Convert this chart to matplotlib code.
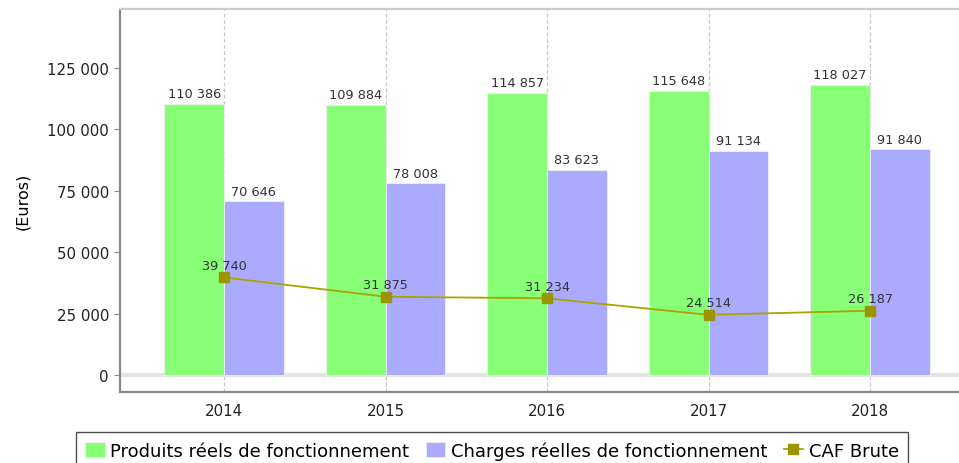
import matplotlib.pyplot as plt
from matplotlib.ticker import FuncFormatter

annees = ['2014', '2015', '2016', '2017', '2018']
produits = [110386, 109884, 114857, 115648, 118027]
charges = [70646, 78008, 83623, 91134, 91840]
caf = [39740, 31875, 31234, 24514, 26187]

def fmt(v):
    return f"{v:,.0f}".replace(",", " ")

fig = plt.figure(figsize=(9.59, 4.64), dpi=100)
ax = fig.add_axes([120 / 959, 71 / 464, 1 - 120 / 959, 383 / 464])

x = list(range(len(annees)))
w = 0.37
b1 = ax.bar([i - w / 2 for i in x], produits, w, color='#88ff77', edgecolor='#f0f0f0',
            linewidth=0.6, label='Produits réels de fonctionnement', zorder=2)
b2 = ax.bar([i + w / 2 for i in x], charges, w, color='#aaaaff', edgecolor='#f0f0f0',
            linewidth=0.6, label='Charges réelles de fonctionnement', zorder=2)
ln, = ax.plot(x, caf, color='#aaa400', lw=1.3, marker='s', ms=7, mfc='#999400', mec='#999400',
              label='CAF Brute', zorder=4)

for bars, vals in ((b1, produits), (b2, charges)):
    for r, v in zip(bars, vals):
        ax.text(r.get_x() + r.get_width() / 2, v + 1500, fmt(v), ha='center', va='bottom',
                fontsize=9.3, color='#333333', zorder=5)
for i, v in zip(x, caf):
    ax.text(i, v + 2200, fmt(v), ha='center', va='bottom', fontsize=9.3, color='#333333', zorder=5)

ax.set_xlim(-0.644, 4.551)
ax.set_ylim(-6900, 149000)
ax.set_yticks([0, 25000, 50000, 75000, 100000, 125000])
ax.yaxis.set_major_formatter(FuncFormatter(lambda v, p: fmt(v)))
ax.set_xticks(x)
ax.set_xticklabels(annees)
ax.tick_params(axis='y', length=4, color='#888888', labelsize=10.8, pad=4, labelcolor='#222222')
ax.tick_params(axis='x', length=0, labelsize=10.8, pad=8, labelcolor='#222222')
ax.set_ylabel('(Euros)', fontsize=11.5, labelpad=12)

for xi in x:
    ax.axvline(xi, color='#c8c8c8', lw=0.9, ls=(0, (3, 2)), zorder=1)
ax.axhline(0, color='#e4e4e4', lw=3, zorder=1)

ax.spines['left'].set_color('#888888')
ax.spines['left'].set_linewidth(1.6)
ax.spines['bottom'].set_color('#888888')
ax.spines['bottom'].set_linewidth(1.6)
ax.spines['top'].set_color('#cccccc')
ax.spines['top'].set_linewidth(1.6)
ax.spines['right'].set_visible(False)

leg = fig.legend([b1, b2, ln], [b1.get_label(), b2.get_label(), ln.get_label()],
                 loc='upper center', bbox_to_anchor=(492 / 959, 31 / 464), ncol=3,
                 fontsize=13, frameon=True, fancybox=False, edgecolor='#222222',
                 handlelength=1.1, handleheight=0.9, handletextpad=0.3, columnspacing=0.9,
                 borderpad=0.5, borderaxespad=0)
leg.get_frame().set_linewidth(1.0)

fig.savefig('out.png', dpi=100)
